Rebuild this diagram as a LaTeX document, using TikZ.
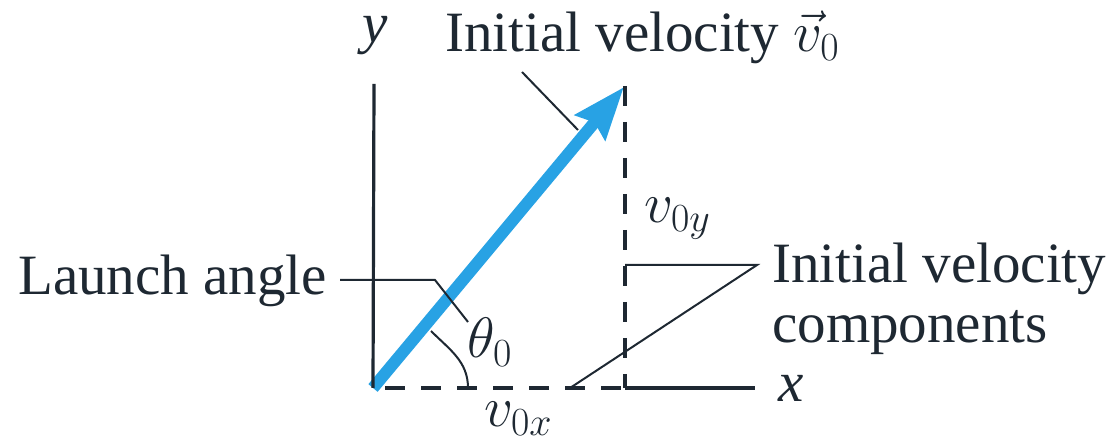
\RequirePackage{fix-cm}
\documentclass[tikz,border=0pt]{standalone}
\usepackage{fontspec}
\IfFontExistsTF{LiberationSerif-Regular.ttf}
  {\setmainfont{LiberationSerif}[Extension=.ttf, UprightFont=*-Regular,
     ItalicFont=*-Italic, BoldFont=*-Bold, BoldItalicFont=*-BoldItalic]}
  {\setmainfont{Liberation Serif}}
\usetikzlibrary{arrows.meta}

\begin{document}
\begin{tikzpicture}[
        x=1pt, y=1pt,
    every node/.style={inner sep=0pt, text=ink, font=\fontsize{57}{60}\selectfont},
    axis/.style={ink, line width=3.2pt},
    dashaxis/.style={axis, dash pattern=on 20pt off 16pt},
    leader/.style={ink, line width=2pt},
    velarrow/.style={velblue, line width=12pt, -{Stealth[length=52pt,width=38pt,inset=6pt]}}
]
\definecolor{ink}{RGB}{30,40,50}
\definecolor{velblue}{RGB}{40,162,228}
\useasboundingbox (0,0) rectangle (1120,447);

    \coordinate (O) at (373,59);
    \coordinate (tip) at (624,360);
    \coordinate (xend) at (755,59);
    \coordinate (yend) at (374,363);
    \coordinate (foot) at (625,59);
    \coordinate (vtop) at (625,361);
    \coordinate (arcb) at (468,59);
    \coordinate (arct) at (431,116);
    \coordinate (ivl) at (522,375);
    \coordinate (ivr) at (578,317);
    \coordinate (lal) at (340,167);
    \coordinate (lam) at (435,167);
    \coordinate (lar) at (468,125);
    \coordinate (cpl) at (625,182);
    \coordinate (cpm) at (757,182);
    \coordinate (cpr) at (570,59);

    \node [anchor=base west] (launch) at (18,152) {Launch angle};
    \node [anchor=base west] (initvel) at (445,395) {Initial velocity $\vec{v}_0$};
    \node [anchor=base west] (comps) at (772,164) {Initial velocity};
    \node [anchor=base west] (compsb) at (772,104) {components};
    \node [anchor=base] (ylab) at (375,404) {\textit{y}};
    \node [anchor=base west] (xlab) at (778,45) {\textit{x}};
    \node [anchor=base west] (theta) at (467,89) {$\theta_0$};
    \node [anchor=base west] (vx) at (484,20) {$v_{0x}$};
    \node [anchor=base west] (vy) at (644,224) {$v_{0y}$};

    \draw [velarrow] (O) -- (tip);
    \draw [axis] (yend) -- (O);
    \draw [axis] (foot) -- (xend);
    \draw [dashaxis, dash phase=24pt] (O) -- (foot);
    \draw [dashaxis] (vtop) -- (foot);
    \draw [leader] (arcb)
        to [out=90,in=-45] (arct)
    ;
    \draw [leader] (ivl) -- (ivr);
    \draw [leader] (lal) -- (lam) -- (lar);
    \draw [leader] (cpl) -- (cpm) -- (cpr);
\end{tikzpicture}
\end{document}
